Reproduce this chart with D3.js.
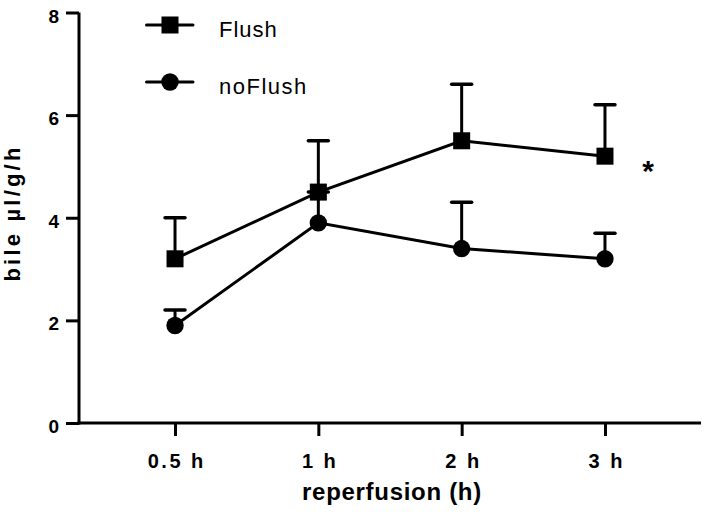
<!DOCTYPE html>
<html>
<head>
<meta charset="utf-8">
<script src="https://cdn.jsdelivr.net/npm/d3@7"></script>
<style>
  body { margin: 0; background: #fff; }
  svg { display: block; }
  text { font-family: "Liberation Sans", Arial, sans-serif; fill: #000; }
</style>
</head>
<body>
<svg id="chart" width="709" height="514"></svg>
<script>
const categories = ["0.5 h", "1 h", "2 h", "3 h"];
const flushMean = [3.2, 4.5, 5.5, 5.2];
const flushUpper = [4.0, 5.5, 6.6, 6.2];
const noFlushMean = [1.9, 3.9, 3.4, 3.2];
const noFlushUpper = [2.2, 4.5, 4.3, 3.7];
const yTicks = [0, 2, 4, 6, 8];
const seriesNames = ["Flush", "noFlush"];

const svg = d3.select("#chart");
const x = d3.scalePoint().domain(categories).range([79, 701]).padding(0.67);
const y = d3.scaleLinear().domain([0, 8]).range([423, 12.5]);

// Y axis
const yAxis = svg.append("g").attr("transform", "translate(79,0)")
  .call(d3.axisLeft(y).tickValues(yTicks).tickSize(13).tickPadding(7).tickSizeOuter(0));
yAxis.select(".domain").attr("stroke-width", 3).attr("d", `M0,${y(8)}V${y(0)+1.5}`);
yAxis.selectAll(".tick line").attr("stroke-width", 3);
yAxis.selectAll(".tick text").attr("dy", "0.5em").style("font-size", "19px").style("font-weight", "bold")
  .style("font-family", "'Liberation Sans', Arial, sans-serif");

// X axis
const xAxis = svg.append("g").attr("transform", "translate(0,423)")
  .call(d3.axisBottom(x).tickSize(13).tickPadding(18).tickSizeOuter(0));
xAxis.select(".domain").attr("stroke-width", 3).attr("d", `M77.5,0H701`);
xAxis.selectAll(".tick line").attr("stroke-width", 3);
xAxis.selectAll(".tick text").style("font-size", "20px").style("font-weight", "bold")
  .style("font-family", "'Liberation Sans', Arial, sans-serif")
  .style("letter-spacing", "2.5px").attr("dx", "1.25px");

// Axis titles
svg.append("text").attr("x", 392).attr("y", 499.5).attr("text-anchor", "middle")
  .style("font-size", "24px").style("font-weight", "bold").style("letter-spacing", "0.7px")
  .text("reperfusion (h)");
svg.append("text").attr("transform", "translate(20,213) rotate(-90)").attr("text-anchor", "middle")
  .style("font-size", "22px").style("font-weight", "bold").style("letter-spacing", "3.2px")
  .text("bile µl/g/h");

const line = d3.line().x((d, i) => x(categories[i])).y(d => y(d));

function drawSeries(mean, upper, shape) {
  const g = svg.append("g");
  // error bars
  mean.forEach((m, i) => {
    const cx = x(categories[i]);
    g.append("line").attr("x1", cx).attr("x2", cx).attr("y1", y(m)).attr("y2", y(upper[i]))
      .attr("stroke", "#000").attr("stroke-width", 3);
    g.append("line").attr("x1", cx - 10).attr("x2", cx + 10).attr("y1", y(upper[i])).attr("y2", y(upper[i]))
      .attr("stroke", "#000").attr("stroke-width", 3.5).attr("stroke-linecap", "round");
  });
  g.append("path").attr("d", line(mean)).attr("fill", "none").attr("stroke", "#000").attr("stroke-width", 3);
  mean.forEach((m, i) => {
    const cx = x(categories[i]);
    if (shape === "square") {
      g.append("rect").attr("x", cx - 8.5).attr("y", y(m) - 8.5).attr("width", 17).attr("height", 17).attr("fill", "#000");
    } else {
      g.append("circle").attr("cx", cx).attr("cy", y(m)).attr("r", 8.7).attr("fill", "#000");
    }
  });
}
drawSeries(noFlushMean, noFlushUpper, "circle");
drawSeries(flushMean, flushUpper, "square");

// significance asterisk
svg.append("text").attr("x", 648).attr("y", 181).attr("text-anchor", "middle")
  .style("font-size", "30px").style("font-weight", "bold").text("*");

// Legend
const legend = svg.append("g");
[25, 82].forEach((ly, i) => {
  legend.append("line").attr("x1", 146.5).attr("x2", 193).attr("y1", ly).attr("y2", ly)
    .attr("stroke", "#000").attr("stroke-width", 3).attr("stroke-linecap", "round");
  if (i === 0) {
    legend.append("rect").attr("x", 161.5).attr("y", ly - 8.5).attr("width", 17).attr("height", 17).attr("fill", "#000");
  } else {
    legend.append("circle").attr("cx", 170).attr("cy", ly).attr("r", 8.7).attr("fill", "#000");
  }
  legend.append("text").attr("x", 219).attr("y", ly + 12).style("font-size", "22px")
    .style("letter-spacing", i === 0 ? "1px" : "1.5px").text(seriesNames[i]);
});
</script>
</body>
</html>
